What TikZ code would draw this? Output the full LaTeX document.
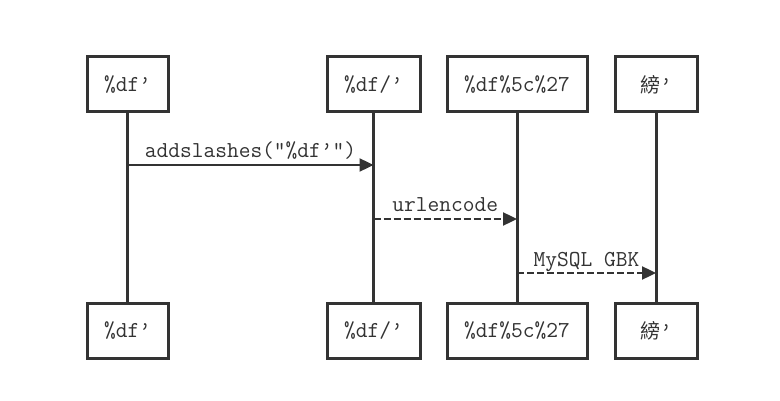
\documentclass[tikz,border=0pt]{standalone}
\usepackage{fontspec}
\setmainfont{Latin Modern Mono}
\newfontfamily\cjk{Noto Sans CJK SC}
\usetikzlibrary{arrows.meta,calc}
\definecolor{ink}{HTML}{333333}
\tikzset{
  actor/.style={draw=ink, line width=3pt, fill=white, text=ink, inner sep=0pt,
    minimum height=55pt, font=\fontsize{22.8}{24}\selectfont},
  life/.style={draw=ink, line width=3pt},
  msg/.style={draw=ink, line width=2.4pt, -{Triangle[length=14pt,width=13pt]}},
  dmsg/.style={msg, dash pattern=on 7pt off 3pt},
  lbl/.style={text=ink, font=\fontsize{22.8}{24}\selectfont, inner sep=0pt, anchor=base}
}
\begin{document}
\begin{tikzpicture}[x=1pt,y=-1pt]
\useasboundingbox (0,0) rectangle (780,401);
% top actors
\node[actor, minimum width=81pt]  (a1) at (127.5,84.5) {\%df’};
\node[actor, minimum width=93pt]  (a2) at (373.5,84.5) {\%df/’};
\node[actor, minimum width=140pt] (a3) at (517,84.5)   {\%df\%5c\%27};
\node[actor, minimum width=82pt]  (a4) at (656,84.5)   {{\cjk\fontsize{20}{22}\selectfont 縍}’};
% bottom actors
\node[actor, minimum width=81pt]  (b1) at (127.5,330.5) {\%df’};
\node[actor, minimum width=93pt]  (b2) at (373.5,330.5) {\%df/’};
\node[actor, minimum width=140pt] (b3) at (517,330.5)   {\%df\%5c\%27};
\node[actor, minimum width=82pt]  (b4) at (656,330.5)   {{\cjk\fontsize{20}{22}\selectfont 縍}’};
% lifelines
\draw[life] (a1.south) -- (b1.north);
\draw[life] (a2.south) -- (b2.north);
\draw[life] (a3.south) -- (b3.north);
\draw[life] (a4.south) -- (b4.north);
% message anchors
\coordinate (m1s) at (a1.south |- 0,165);
\coordinate (m1e) at (a2.south |- 0,165);
\coordinate (m2s) at (a2.south |- 0,219);
\coordinate (m2e) at (a3.south |- 0,219);
\coordinate (m3s) at (a3.south |- 0,273);
\coordinate (m3e) at (a4.south |- 0,273);
\draw[msg]  (m1s) -- (m1e);
\draw[dmsg] (m2s) -- (m2e);
\draw[dmsg] (m3s) -- (m3e);
\node[lbl] (l1) at ($(m1s)!0.5!(m1e)+(0,-7)$) {addslashes(”\%df’”)};
\node[lbl] (l2) at ($(m2s)!0.5!(m2e)+(0,-7)$) {urlencode};
\node[lbl] (l3) at ($(m3s)!0.5!(m3e)+(0,-7)$) {MySQL GBK};
\end{tikzpicture}
\end{document}
